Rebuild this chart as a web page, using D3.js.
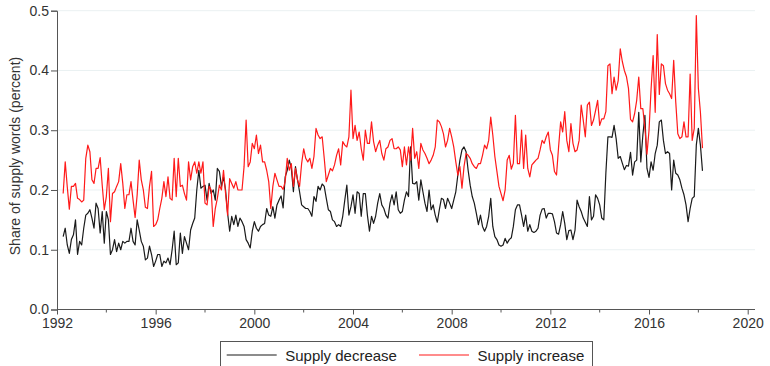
<!DOCTYPE html>
<html>
<head>
<meta charset="utf-8">
<script src="https://cdn.jsdelivr.net/npm/d3@7"></script>
<style>
  html, body { margin: 0; padding: 0; background: #fff; }
  svg { display: block; font-family: Arial, 'Liberation Sans', sans-serif; }
</style>
</head>
<body>
<div id="chart"></div>
<script>
// Monthly series, first observation April 1992
const START_YEAR = 1992;
const START_MONTH = 3; // 0 = January

// Share of supply words (percent): "supply decrease"
const supplyDecrease = [
  0.122, 0.136, 0.108, 0.094, 0.117, 0.125, 0.15, 0.092, 0.114, 0.108,
  0.136, 0.158, 0.161, 0.167, 0.153, 0.136, 0.178, 0.169, 0.128, 0.164,
  0.111, 0.164, 0.15, 0.092, 0.1, 0.117, 0.097, 0.111, 0.1, 0.114,
  0.111, 0.114, 0.114, 0.136, 0.114, 0.108, 0.15, 0.133, 0.114, 0.106,
  0.083, 0.086, 0.106, 0.092, 0.072, 0.081, 0.092, 0.092, 0.072, 0.081,
  0.078, 0.086, 0.075, 0.1, 0.131, 0.075, 0.078, 0.128, 0.094, 0.122,
  0.111, 0.1, 0.133, 0.144, 0.153, 0.2, 0.233, 0.203, 0.206, 0.208,
  0.183, 0.211, 0.194, 0.2, 0.183, 0.236, 0.231, 0.206, 0.222, 0.2,
  0.161, 0.131, 0.156, 0.142, 0.158, 0.139, 0.153, 0.147, 0.139, 0.117,
  0.111, 0.103, 0.131, 0.147, 0.136, 0.131, 0.139, 0.142, 0.144, 0.169,
  0.158, 0.156, 0.172, 0.153, 0.175, 0.183,
  0.19, 0.17, 0.222, 0.233, 0.25, 0.236, 0.197, 0.239, 0.217, 0.197,
  0.175, 0.172, 0.169, 0.169, 0.164, 0.156, 0.189, 0.181, 0.206, 0.2,
  0.21, 0.206, 0.186, 0.167, 0.164, 0.15, 0.147, 0.139, 0.142, 0.139,
  0.156, 0.183, 0.208, 0.158, 0.172, 0.192, 0.161, 0.197, 0.194, 0.156,
  0.194, 0.194, 0.158, 0.131, 0.156, 0.144, 0.156, 0.178, 0.194, 0.175,
  0.169, 0.158, 0.153, 0.178, 0.192, 0.175,
  0.197, 0.167, 0.161, 0.164, 0.183, 0.197, 0.189, 0.272, 0.211, 0.21,
  0.214, 0.183, 0.217, 0.197, 0.178, 0.164, 0.2, 0.167, 0.175, 0.158,
  0.146, 0.167, 0.186, 0.184, 0.169, 0.186, 0.178, 0.169, 0.183, 0.197,
  0.225, 0.25, 0.267, 0.272, 0.264, 0.233, 0.208, 0.189, 0.178, 0.161,
  0.142, 0.158, 0.139, 0.131, 0.139, 0.156, 0.186, 0.139, 0.122, 0.117,
  0.108, 0.106, 0.108, 0.119, 0.111, 0.117, 0.12,
  0.139, 0.167, 0.175, 0.175, 0.158, 0.139, 0.158, 0.131, 0.142, 0.131,
  0.129, 0.131, 0.136, 0.158, 0.168, 0.169, 0.153, 0.161, 0.161, 0.16,
  0.147, 0.128, 0.126, 0.142, 0.164, 0.144, 0.117, 0.132, 0.133, 0.117,
  0.133, 0.183, 0.172, 0.164, 0.153, 0.146, 0.139, 0.189, 0.15, 0.156,
  0.192, 0.186, 0.175, 0.153, 0.15, 0.228, 0.289, 0.289, 0.288, 0.308,
  0.286, 0.253, 0.256,
  0.245, 0.234, 0.241, 0.24, 0.263,
  0.225, 0.247, 0.25, 0.33, 0.247, 0.292, 0.325, 0.236, 0.221, 0.247,
  0.233, 0.261, 0.275, 0.314, 0.317, 0.283, 0.261, 0.264, 0.261, 0.2,
  0.25, 0.228, 0.225, 0.217, 0.203, 0.192, 0.175, 0.147, 0.169, 0.186,
  0.189, 0.275, 0.303, 0.275, 0.232
];

// Share of supply words (percent): "supply increase"
const supplyIncrease = [
  0.194, 0.247, 0.205, 0.168, 0.206, 0.206, 0.211, 0.186, 0.184, 0.18,
  0.183, 0.253, 0.275, 0.264, 0.217, 0.211, 0.236, 0.236, 0.254, 0.208,
  0.167, 0.189, 0.236, 0.147, 0.194, 0.197, 0.206, 0.214, 0.244, 0.211,
  0.169, 0.192, 0.192, 0.214, 0.183, 0.154, 0.192, 0.25, 0.217, 0.2,
  0.171, 0.169, 0.206, 0.231, 0.139, 0.142, 0.15, 0.169, 0.186, 0.214,
  0.189, 0.222, 0.186, 0.183, 0.253, 0.189, 0.253, 0.206, 0.208, 0.194,
  0.183, 0.247, 0.217, 0.239, 0.247, 0.228, 0.247, 0.228, 0.247, 0.178,
  0.175, 0.206, 0.2, 0.139, 0.169, 0.186, 0.208, 0.2, 0.233, 0.194,
  0.158, 0.219, 0.211, 0.203, 0.214, 0.2, 0.2, 0.2, 0.239, 0.317,
  0.239, 0.247, 0.278, 0.269, 0.292, 0.261, 0.275, 0.247, 0.247, 0.233,
  0.214, 0.169, 0.206, 0.228, 0.217, 0.206,
  0.206, 0.201, 0.214, 0.253, 0.233, 0.244, 0.206, 0.236, 0.217, 0.206,
  0.244, 0.269, 0.253, 0.247, 0.253, 0.236, 0.256, 0.303, 0.292, 0.286,
  0.289, 0.253, 0.214, 0.225, 0.236, 0.232, 0.242, 0.258, 0.269, 0.242,
  0.281, 0.275, 0.272, 0.289, 0.367, 0.286, 0.308, 0.283, 0.297, 0.269,
  0.25, 0.3, 0.278, 0.278, 0.314, 0.281, 0.264, 0.275, 0.283, 0.261,
  0.25, 0.269, 0.272, 0.283, 0.286, 0.269,
  0.269, 0.272, 0.267, 0.239, 0.272, 0.242, 0.272, 0.25, 0.303, 0.253,
  0.264, 0.236, 0.278, 0.267, 0.261, 0.253, 0.244, 0.25, 0.258, 0.272,
  0.317, 0.314, 0.306, 0.294, 0.272, 0.283, 0.303, 0.289, 0.272, 0.247,
  0.225, 0.239, 0.203, 0.239, 0.261, 0.258, 0.253, 0.244, 0.239, 0.236,
  0.244, 0.244, 0.258, 0.275, 0.269, 0.283, 0.322, 0.292, 0.256, 0.231,
  0.206, 0.194, 0.182, 0.2, 0.25, 0.258, 0.235,
  0.245, 0.325, 0.244, 0.244, 0.3, 0.236, 0.292, 0.236, 0.222, 0.242,
  0.246, 0.25, 0.253, 0.267, 0.283, 0.278, 0.289, 0.297, 0.267, 0.258,
  0.231, 0.225, 0.272, 0.314, 0.297, 0.331, 0.283, 0.264, 0.311, 0.278,
  0.264, 0.267, 0.283, 0.342, 0.317, 0.289, 0.342, 0.347, 0.308, 0.317,
  0.333, 0.35, 0.308, 0.319, 0.319, 0.331, 0.408, 0.411, 0.361, 0.389,
  0.367, 0.383, 0.436,
  0.415, 0.4, 0.39, 0.37, 0.318,
  0.314, 0.328, 0.35, 0.389, 0.336, 0.336, 0.303, 0.26, 0.3, 0.369,
  0.425, 0.33, 0.46, 0.36, 0.411, 0.408, 0.378, 0.367, 0.361, 0.353,
  0.417, 0.347, 0.294, 0.286, 0.289, 0.314, 0.289, 0.289, 0.394, 0.283,
  0.303, 0.492, 0.37, 0.33, 0.27
];

const xMajorTicks = [1992, 1996, 2000, 2004, 2008, 2012, 2016, 2020];
const xMinorTicks = [1994, 1998, 2002, 2006, 2010, 2014, 2018];
const yTicks = [0, 0.1, 0.2, 0.3, 0.4, 0.5];
const seriesNames = ['Supply decrease', 'Supply increase'];
const seriesColors = ['#1a1a1a', '#ff1a1a'];

const width = 770;
const height = 366;

const svg = d3.select('#chart')
  .append('svg')
  .attr('width', width)
  .attr('height', height);

// Scales (x in decimal years)
const x = d3.scaleLinear().domain([1992, 2020]).range([57, 747.7]);
const y = d3.scaleLinear().domain([0, 0.5]).range([309.5, 10.7]);

const monthToYear = (i) => START_YEAR + (START_MONTH + i) / 12;

// Gridlines
svg.append('g')
  .selectAll('line')
  .data(yTicks.filter((d) => d > 0))
  .enter()
  .append('line')
  .attr('x1', 57)
  .attr('x2', 755)
  .attr('y1', (d) => y(d))
  .attr('y2', (d) => y(d))
  .attr('stroke', '#eaf1f2')
  .attr('stroke-width', 1);

// Series lines
const line = d3.line()
  .x((d, i) => x(monthToYear(i)))
  .y((d) => y(d));

[supplyDecrease, supplyIncrease].forEach((series, k) => {
  svg.append('path')
    .datum(series)
    .attr('fill', 'none')
    .attr('stroke', seriesColors[k])
    .attr('stroke-width', 1.2)
    .attr('stroke-linejoin', 'round')
    .attr('d', line);
});

// Y axis
const yAxis = d3.axisLeft(y)
  .tickValues(yTicks)
  .tickFormat(d3.format('.1f'))
  .tickSize(6)
  .tickPadding(2);

const yAxisG = svg.append('g')
  .attr('transform', 'translate(57,0)')
  .call(yAxis);

// X axis (major + minor ticks)
const xAxis = d3.axisBottom(x)
  .tickValues(xMajorTicks)
  .tickFormat(d3.format('d'))
  .tickSize(5)
  .tickPadding(4);

const xAxisG = svg.append('g')
  .attr('transform', 'translate(0,309.5)')
  .call(xAxis);

xAxisG.select('.domain').attr('d', 'M57,0H755');

xAxisG.selectAll('.minor')
  .data(xMinorTicks)
  .enter()
  .append('line')
  .attr('class', 'minor')
  .attr('x1', (d) => x(d))
  .attr('x2', (d) => x(d))
  .attr('y1', 0)
  .attr('y2', 3)
  .attr('stroke', '#555');

[yAxisG, xAxisG].forEach((g) => {
  g.select('.domain').attr('stroke', '#555');
  g.selectAll('.tick line').attr('stroke', '#555');
  g.selectAll('.tick text')
    .attr('fill', '#333')
    .style('font-size', '14px')
    .style('font-family', 'Arial, "Liberation Sans", sans-serif');
});

// Y axis title
svg.append('text')
  .attr('transform', 'translate(15,156) rotate(-90)')
  .attr('text-anchor', 'middle')
  .attr('dominant-baseline', 'central')
  .attr('fill', '#333')
  .style('font-size', '14px')
  .text('Share of supply words (percent)');

// Legend
const legend = svg.append('g');
legend.append('rect')
  .attr('x', 220.5)
  .attr('y', 341.5)
  .attr('width', 372)
  .attr('height', 40)
  .attr('fill', '#fff')
  .attr('stroke', '#555');

const legendX = [226.7, 419];
seriesNames.forEach((name, k) => {
  legend.append('line')
    .attr('x1', legendX[k])
    .attr('x2', legendX[k] + 50)
    .attr('y1', 355)
    .attr('y2', 355)
    .attr('stroke', seriesColors[k])
    .attr('stroke-width', 1.2);
  legend.append('text')
    .attr('x', legendX[k] + 58.5)
    .attr('y', 355)
    .attr('dominant-baseline', 'central')
    .attr('fill', '#222')
    .style('font-size', '15px')
    .text(name);
});
</script>
</body>
</html>
